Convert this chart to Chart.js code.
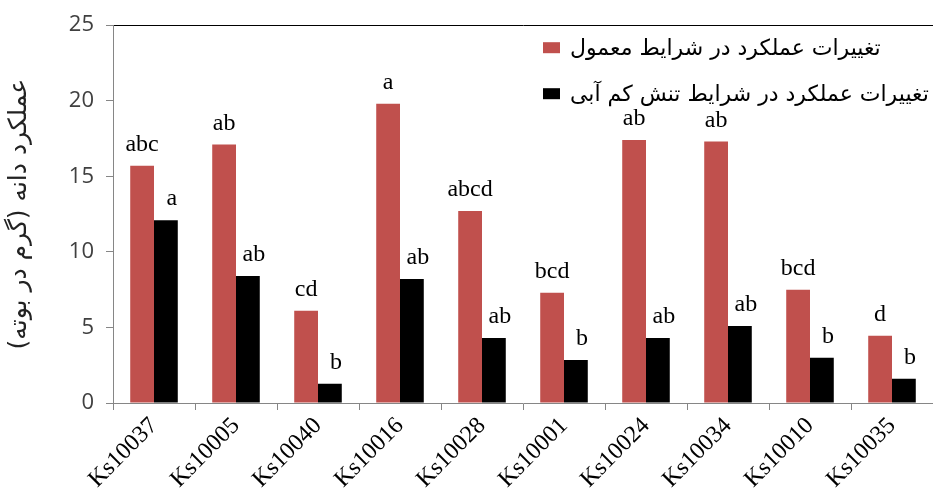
<!DOCTYPE html>
<html><head><meta charset="utf-8">
<script src="https://cdn.jsdelivr.net/npm/chart.js@4/dist/chart.umd.min.js"></script>
<style>html,body{margin:0;padding:0;background:#fff}</style>
</head><body>
<canvas id="c" width="933" height="492"></canvas>
<script>
const categories = ['Ks10037','Ks10005','Ks10040','Ks10016','Ks10028','Ks10001','Ks10024','Ks10034','Ks10010','Ks10035'];
const normalYield = [15.7, 17.1, 6.1, 19.8, 12.7, 7.3, 17.4, 17.3, 7.5, 4.45];
const stressYield = [12.1, 8.4, 1.27, 8.2, 4.3, 2.85, 4.3, 5.1, 3.0, 1.6];
const normalLetters = ['abc','ab','cd','a','abcd','bcd','ab','ab','bcd','d'];
const stressLetters = ['a','ab','b','ab','ab','b','ab','ab','b','b'];
const seriesNames = ['تغییرات عملکرد در شرایط معمول', 'تغییرات عملکرد در شرایط تنش کم آبی'];
const yTitle = 'عملکرد دانه (گرم در بوته)';
const yMin = 0, yMax = 25, yStep = 5;

const RLM = '\u200F';
const letterSets = [normalLetters, stressLetters];

const letterPlugin = {
  id: 'letters',
  afterDatasetsDraw(chart) {
    const ctx = chart.ctx;
    ctx.save();
    ctx.font = '24px "Liberation Serif"';
    ctx.fillStyle = '#000';
    ctx.textAlign = 'center';
    ctx.textBaseline = 'alphabetic';
    chart.data.datasets.forEach((ds, di) => {
      const meta = chart.getDatasetMeta(di);
      meta.data.forEach((bar, i) => {
        const dx = di === 1 ? 6 : 0;
        ctx.fillText(letterSets[di][i], bar.x + dx, bar.y - 15);
      });
    });
    ctx.restore();
  }
};

const legendPlugin = {
  id: 'customLegend',
  afterDraw(chart) {
    const ctx = chart.ctx;
    const a = chart.chartArea;
    ctx.save();
    const x0 = a.left + 430;
    const rows = [{y: a.top + 22}, {y: a.top + 68}];
    chart.data.datasets.forEach((ds, i) => {
      const r = rows[i];
      ctx.fillStyle = ds.backgroundColor;
      ctx.fillRect(x0, r.y - 5, 17, 11);
      ctx.fillStyle = '#000';
      ctx.font = '22px "DejaVu Sans"';
      ctx.textAlign = 'left';
      ctx.textBaseline = 'middle';
      ctx.fillText(RLM + ds.label + RLM, x0 + 27, r.y + 2);
    });
    ctx.restore();
  }
};

new Chart(document.getElementById('c'), {
  type: 'bar',
  data: {
    labels: categories,
    datasets: [
      {label: seriesNames[0], data: normalYield, backgroundColor: '#C0504D', barPercentage: 1, categoryPercentage: 0.58},
      {label: seriesNames[1], data: stressYield, backgroundColor: '#000000', barPercentage: 1, categoryPercentage: 0.58}
    ]
  },
  options: {
    responsive: false,
    animation: false,
    layout: {padding: {top: 21, right: 0, left: 0, bottom: 0}},
    plugins: {legend: {display: false}, tooltip: {enabled: false}},
    scales: {
      x: {
        grid: {display: true, drawOnChartArea: false, offset: true, tickLength: 7, tickColor: '#868686'},
        border: {color: '#868686', width: 1},
        ticks: {color: '#000', font: {family: 'Liberation Serif', size: 24}, minRotation: 45, maxRotation: 45, padding: 2},
        afterFit(s) { s.height = 89; }
      },
      y: {
        min: yMin, max: yMax,
        grid: {
          drawOnChartArea: true,
          color: c => (c.tick && c.tick.value === yMax) ? '#000' : 'rgba(0,0,0,0)',
          tickColor: '#868686', tickLength: 7
        },
        border: {color: '#868686', width: 1},
        ticks: {stepSize: yStep, color: '#404040', font: {family: 'Open Sans', size: 22}, padding: 12},
        title: {display: true, text: yTitle + RLM, color: '#222', font: {family: 'DejaVu Sans', size: 25}, padding: {top: 4, bottom: 0}},
        afterFit(s) { s.width = 113; }
      }
    }
  },
  plugins: [letterPlugin, legendPlugin]
});
</script>
</body></html>
